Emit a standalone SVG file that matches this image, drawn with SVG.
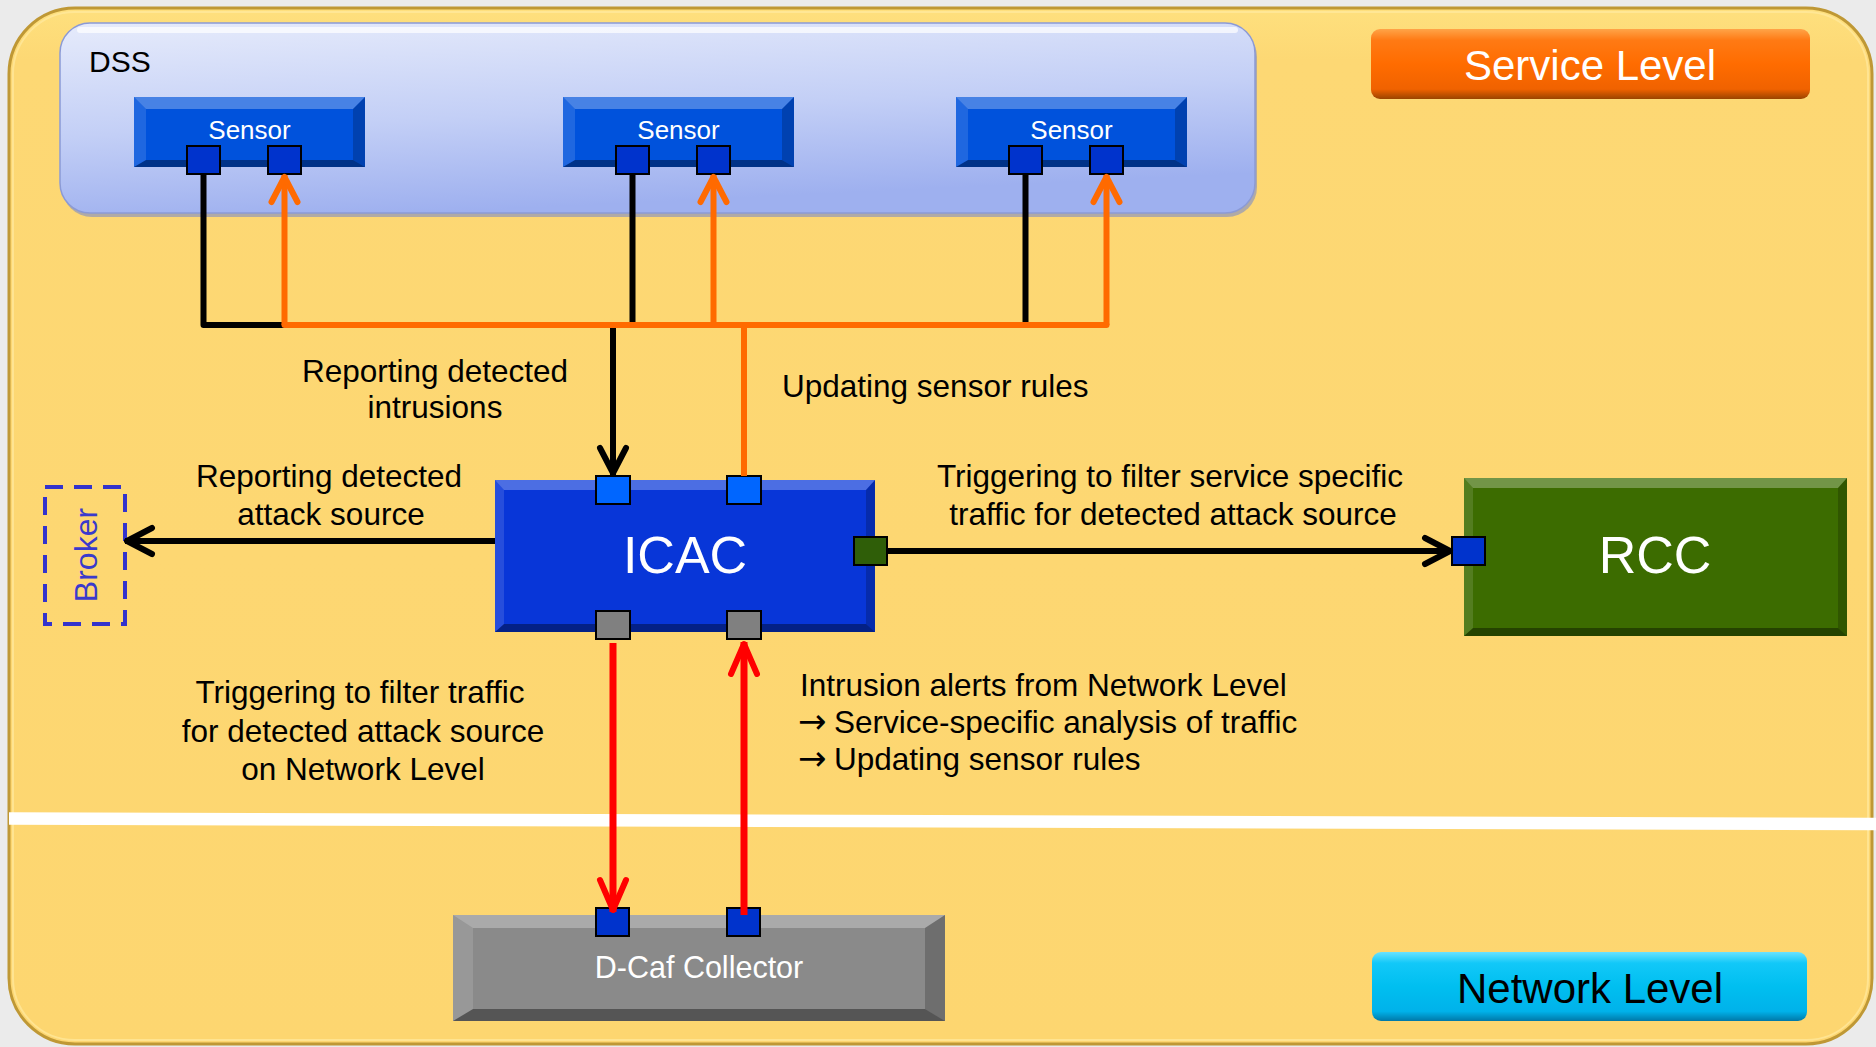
<svg xmlns="http://www.w3.org/2000/svg" xmlns:xlink="http://www.w3.org/1999/xlink" width="1876" height="1047" viewBox="0 0 1876 1047">
<defs>
<style>
.t{font-family:"Liberation Sans",Arial,sans-serif;fill:#000}
.lbl{font-size:31.5px;text-anchor:middle}
.lbs{font-size:31.5px;text-anchor:start}
.arr{font-family:"DejaVu Sans",sans-serif;font-size:34px}
.w{fill:#fff}
.port{stroke:#000;stroke-width:2}
.pb{fill:#0033cc}
.pl{fill:#0066ff}
.pg{fill:#808080}
.pgr{fill:#2f5e08}
.hi{fill:#fff;fill-opacity:.28}
.sh{fill:#000;fill-opacity:.38}
.sl{fill:#fff;fill-opacity:.12}
.sr{fill:#000;fill-opacity:.2}
.bl{stroke:#000;stroke-width:6;fill:none}
.or{stroke:#ff6a00;stroke-width:6;fill:none}
.rd{stroke:#ff0000;stroke-width:7;fill:none}
</style>
<linearGradient id="gDss" x1="0" y1="0" x2="0.3" y2="1">
<stop offset="0" stop-color="#e6ebfb"/>
<stop offset="0.55" stop-color="#c3cff6"/>
<stop offset="1" stop-color="#9eb0ef"/>
</linearGradient>
<linearGradient id="gSvc" x1="0" y1="0" x2="0" y2="1">
<stop offset="0" stop-color="#ffa448"/>
<stop offset="0.16" stop-color="#ff7a14"/>
<stop offset="0.5" stop-color="#ff6c00"/>
<stop offset="0.86" stop-color="#f06200"/>
<stop offset="1" stop-color="#9a4400"/>
</linearGradient>
<linearGradient id="gNet" x1="0" y1="0" x2="0" y2="1">
<stop offset="0" stop-color="#6ae2ff"/>
<stop offset="0.16" stop-color="#12c8f8"/>
<stop offset="0.5" stop-color="#00bff0"/>
<stop offset="0.86" stop-color="#00b2ea"/>
<stop offset="1" stop-color="#0078a8"/>
</linearGradient>
<linearGradient id="gPanel" x1="0" y1="0" x2="0" y2="1">
<stop offset="0" stop-color="#fee07e"/>
<stop offset="0.05" stop-color="#fdd874"/>
<stop offset="1" stop-color="#fdd670"/>
</linearGradient>
<g id="sensorBody">
<rect x="0" y="0" width="231" height="70" fill="#0052dc"/>
<polygon class="hi" points="0,0 231,0 219,12 12,12"/>
<polygon class="sh" points="0,70 231,70 219,63 12,63"/>
<polygon class="sl" points="0,0 12,12 12,63 0,70"/>
<polygon class="sr" points="231,0 219,12 219,63 231,70"/>
</g>
<marker id="aBlk" markerUnits="userSpaceOnUse" viewBox="-34 -18 40 36" refX="0" refY="0" markerWidth="40" markerHeight="36" orient="auto" overflow="visible">
<path d="M-27,-13 L-2,0 L-27,13" fill="none" stroke="#000" stroke-width="6" stroke-linecap="round" stroke-linejoin="round"/>
</marker>
<marker id="aOr" markerUnits="userSpaceOnUse" viewBox="-34 -18 40 36" refX="0" refY="0" markerWidth="40" markerHeight="36" orient="auto" overflow="visible">
<path d="M-27,-13 L-2,0 L-27,13" fill="none" stroke="#ff6a00" stroke-width="6" stroke-linecap="round" stroke-linejoin="round"/>
</marker>
<marker id="aRd" markerUnits="userSpaceOnUse" viewBox="-38 -18 44 36" refX="0" refY="0" markerWidth="44" markerHeight="36" orient="auto" overflow="visible">
<path d="M-32,-13 L-2,0 L-32,13" fill="none" stroke="#ff0000" stroke-width="6" stroke-linecap="round" stroke-linejoin="round"/>
</marker>
</defs>

<rect x="0" y="0" width="1876" height="1047" fill="#ebebeb"/>

<g id="panel">
<rect x="9" y="8" width="1863" height="1036" rx="66" ry="66" fill="url(#gPanel)" stroke="#bf9835" stroke-width="3"/>
<rect x="13" y="12" width="1855" height="1028" rx="62" ry="62" fill="none" stroke="#ffe9a0" stroke-width="2" stroke-opacity="0.7"/>
</g>

<line id="separator" x1="9" y1="818.5" x2="1876" y2="824" stroke="#fff" stroke-width="12.5"/>

<g id="dss">
<rect x="62" y="27" width="1195" height="190" rx="30" ry="30" fill="#7d8cc8" opacity="0.6"/>
<rect x="60" y="23" width="1195" height="190" rx="30" ry="30" fill="url(#gDss)" stroke="#8b9ad6" stroke-width="1.5"/>
<path d="M80,30 H1235" stroke="#fff" stroke-width="6" stroke-opacity="0.7" stroke-linecap="round"/>
<text class="t" x="89" y="72" font-size="30">DSS</text>
</g>

<g id="sensor1" transform="translate(134,97)">
<use xlink:href="#sensorBody"/>
<text class="t w" x="115.5" y="42" font-size="26" text-anchor="middle">Sensor</text>
<rect class="port pb" x="53" y="49" width="33" height="28"/>
<rect class="port pb" x="134" y="49" width="33" height="28"/>
</g>
<g id="sensor2" transform="translate(563,97)">
<use xlink:href="#sensorBody"/>
<text class="t w" x="115.5" y="42" font-size="26" text-anchor="middle">Sensor</text>
<rect class="port pb" x="53" y="49" width="33" height="28"/>
<rect class="port pb" x="134" y="49" width="33" height="28"/>
</g>
<g id="sensor3" transform="translate(956,97)">
<use xlink:href="#sensorBody"/>
<text class="t w" x="115.5" y="42" font-size="26" text-anchor="middle">Sensor</text>
<rect class="port pb" x="53" y="49" width="33" height="28"/>
<rect class="port pb" x="134" y="49" width="33" height="28"/>
</g>

<g id="serviceLevel">
<rect x="1371" y="29" width="439" height="70" rx="9" ry="9" fill="url(#gSvc)"/>
<text class="t w" x="1590" y="80" font-size="42" text-anchor="middle">Service Level</text>
</g>

<g id="networkLevel">
<rect x="1372" y="952" width="435" height="69" rx="9" ry="9" fill="url(#gNet)"/>
<text class="t" x="1590" y="1003" font-size="42" text-anchor="middle">Network Level</text>
</g>

<g id="broker">
<rect x="45" y="487" width="80" height="137" fill="none" stroke="#3333cc" stroke-width="4" stroke-dasharray="18 11"/>
<text class="t" transform="translate(97,555) rotate(-90)" x="0" y="0" font-size="32" text-anchor="middle" style="fill:#3a3acc">Broker</text>
</g>

<g id="icac">
<rect x="495" y="480" width="380" height="152" fill="#0836d8"/>
<polygon class="hi" points="495,480 875,480 866,490 504,490"/>
<polygon class="sh" points="495,632 875,632 866,624 504,624"/>
<polygon class="sl" points="495,480 504,490 504,624 495,632"/>
<polygon class="sr" points="875,480 866,490 866,624 875,632"/>
<text class="t w" x="685" y="573" font-size="52" text-anchor="middle">ICAC</text>
<rect class="port pl" x="596" y="476" width="34" height="28"/>
<rect class="port pl" x="727" y="476" width="34" height="28"/>
<rect class="port pg" x="596" y="611" width="34" height="28"/>
<rect class="port pg" x="727" y="611" width="34" height="28"/>
<rect class="port pgr" x="854" y="537" width="33" height="28"/>
</g>

<g id="rcc">
<rect x="1464" y="478" width="383" height="158" fill="#3c6c00"/>
<polygon class="hi" points="1464,478 1847,478 1838,488 1473,488"/>
<polygon class="sh" points="1464,636 1847,636 1838,628 1473,628"/>
<polygon class="sl" points="1464,478 1473,488 1473,628 1464,636"/>
<polygon class="sr" points="1847,478 1838,488 1838,628 1847,636"/>
<text class="t w" x="1655" y="573" font-size="52" text-anchor="middle">RCC</text>
<rect class="port pb" x="1452" y="537" width="33" height="28"/>
</g>

<g id="dcaf">
<rect x="453" y="915" width="492" height="106" fill="#8a8a8a"/>
<polygon class="hi" points="453,915 945,915 925,928 473,928"/>
<polygon class="sh" points="453,1021 945,1021 925,1009 473,1009"/>
<polygon class="sl" points="453,915 473,928 473,1009 453,1021"/>
<polygon class="sr" points="945,915 925,928 925,1009 945,1021"/>
<text class="t w" x="699" y="978" font-size="30.5" text-anchor="middle">D-Caf Collector</text>
<rect class="port pb" x="596" y="908" width="33" height="28"/>
<rect class="port pb" x="727" y="908" width="33" height="28"/>
</g>

<g id="connectors">
<path class="bl" d="M203.5,174 V325 H284.5" stroke-linejoin="round"/>
<path class="bl" d="M632.5,174 V325"/>
<path class="bl" d="M1025.5,174 V325"/>
<path class="bl" d="M613,325 V475" marker-end="url(#aBlk)"/>
<path class="or" d="M284.5,325 H1106.5" stroke-linecap="round"/>
<path class="or" d="M284.5,325 V175" marker-end="url(#aOr)"/>
<path class="or" d="M713.5,325 V175" marker-end="url(#aOr)"/>
<path class="or" d="M1106.5,325 V175" marker-end="url(#aOr)"/>
<path class="or" d="M744,476 V325"/>
<path class="bl" d="M495,541 H125" marker-end="url(#aBlk)"/>
<path class="bl" d="M887,551 H1452" marker-end="url(#aBlk)"/>
<path class="rd" d="M613,643 V912" marker-end="url(#aRd)"/>
<path class="rd" d="M744,915 V642" marker-end="url(#aRd)"/>
</g>

<g id="labels">
<text class="t lbl" x="435" y="382">Reporting detected</text>
<text class="t lbl" x="435" y="418">intrusions</text>
<text class="t lbs" x="782" y="397">Updating sensor rules</text>
<text class="t lbl" x="329" y="487">Reporting detected</text>
<text class="t lbl" x="331" y="525">attack source</text>
<text class="t lbl" x="1170" y="487">Triggering to filter service specific</text>
<text class="t lbl" x="1173" y="525">traffic for detected attack source</text>
<text class="t lbl" x="360" y="703">Triggering to filter traffic</text>
<text class="t lbl" x="363" y="742">for detected attack source</text>
<text class="t lbl" x="363" y="780">on Network Level</text>
<text class="t lbs" x="800" y="696">Intrusion alerts from Network Level</text>
<text class="t lbs" x="798" y="733"><tspan class="arr">→</tspan><tspan x="834">Service-specific analysis of traffic</tspan></text>
<text class="t lbs" x="798" y="770"><tspan class="arr">→</tspan><tspan x="834">Updating sensor rules</tspan></text>
</g>
</svg>
